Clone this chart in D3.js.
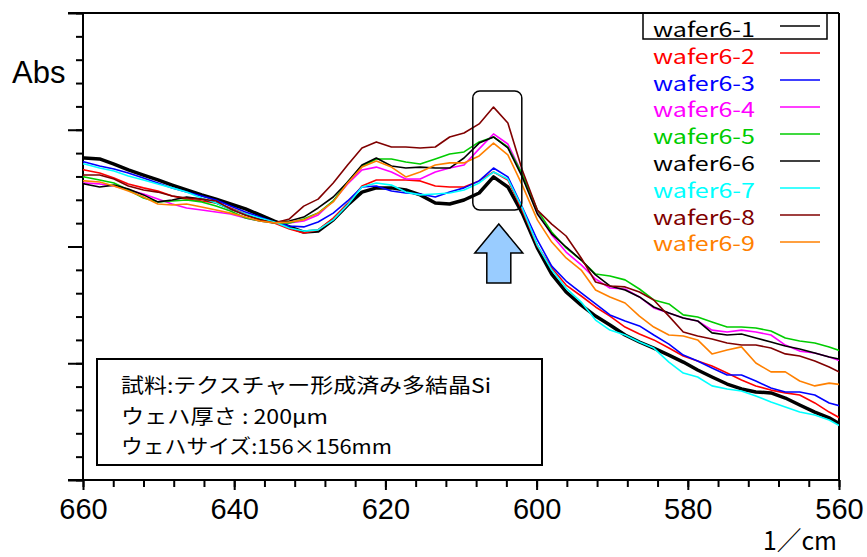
<!DOCTYPE html>
<html>
<head>
<meta charset="utf-8">
<script src="https://cdn.jsdelivr.net/npm/d3@7"></script>
<style>
  body { margin: 0; background: #fff; }
</style>
</head>
<body>
<div id="chart"></div>
<script>

// wavenumber grid of the spectra (1/cm)
const wavenumbers = [661.7, 659.8, 657.8, 655.9, 654.0, 652.0, 650.1, 648.2, 646.3, 644.3,
  642.4, 640.5, 638.5, 636.6, 634.7, 632.7, 630.8, 628.9, 626.9, 625.0,
  623.1, 621.2, 619.2, 617.3, 615.4, 613.4, 611.5, 609.6, 607.6, 605.7,
  603.8, 601.9, 599.9, 598.0, 596.1, 594.1, 592.2, 590.3, 588.3, 586.4,
  584.5, 582.5, 580.6, 578.7, 576.8, 574.8, 572.9, 571.0, 569.0, 567.1,
  565.2, 563.2, 561.3, 559.4];

// absorbance in arbitrary units (axis has 20 unlabelled divisions)
const wafer1 = [13.83, 13.79, 13.75, 13.53, 13.28, 13.06, 12.85, 12.63, 12.42, 12.21,
  12.03, 11.82, 11.61, 11.35, 11.09, 10.84, 10.62, 10.66, 11.14, 11.78,
  12.33, 12.51, 12.51, 12.42, 12.21, 11.86, 11.82, 11.99, 12.29, 12.98,
  12.55, 11.43, 9.94, 8.82, 8.05, 7.49, 7.02, 6.64, 6.21, 5.91,
  5.65, 5.35, 5.05, 4.71, 4.41, 4.11, 3.90, 3.77, 3.73, 3.51,
  3.21, 2.91, 2.66, 2.31];
const wafer2 = [13.32, 13.28, 13.15, 12.93, 12.68, 12.51, 12.38, 12.16, 12.03, 11.95,
  11.86, 11.65, 11.39, 11.18, 11.01, 10.75, 10.58, 10.71, 11.22, 11.82,
  12.59, 12.85, 12.85, 12.85, 12.81, 12.59, 12.55, 12.55, 12.81, 13.19,
  12.85, 11.56, 10.02, 9.08, 8.35, 7.88, 7.41, 7.02, 6.55, 6.25,
  6.00, 5.65, 5.31, 5.10, 4.88, 4.58, 4.28, 4.03, 3.85, 3.73,
  3.64, 3.30, 2.91, 2.57];
const wafer3 = [13.66, 13.62, 13.45, 13.32, 13.15, 12.93, 12.72, 12.51, 12.33, 12.16,
  11.99, 11.73, 11.48, 11.26, 11.05, 10.88, 10.84, 11.05, 11.43, 11.95,
  12.55, 12.59, 12.38, 12.29, 12.25, 12.12, 12.33, 12.51, 12.81, 13.36,
  12.98, 11.69, 10.28, 9.16, 8.52, 8.01, 7.54, 7.07, 6.81, 6.60,
  6.21, 5.82, 5.35, 5.10, 4.80, 4.50, 4.50, 4.24, 3.94, 3.77,
  3.77, 3.64, 3.30, 3.13];
const wafer4 = [12.72, 12.72, 12.68, 12.59, 12.42, 12.25, 12.03, 11.82, 11.65, 11.56,
  11.48, 11.39, 11.22, 11.09, 11.01, 11.01, 11.09, 11.35, 11.95, 12.68,
  13.28, 13.40, 13.19, 12.89, 12.89, 13.19, 13.36, 13.49, 14.18, 14.82,
  14.39, 13.11, 11.48, 10.49, 9.76, 9.21, 8.61, 8.22, 8.18, 7.84,
  7.37, 7.15, 6.94, 6.81, 6.42, 6.34, 6.42, 6.34, 6.21, 5.78,
  5.52, 5.44, 5.27, 5.05];
const wafer5 = [12.98, 12.98, 12.85, 12.72, 12.42, 12.08, 11.91, 11.95, 11.99, 11.91,
  11.73, 11.52, 11.22, 11.09, 11.01, 11.01, 11.18, 11.43, 11.95, 12.76,
  13.45, 13.75, 13.75, 13.62, 13.53, 13.75, 13.96, 14.05, 14.48, 14.69,
  14.26, 13.11, 11.56, 10.62, 9.94, 9.42, 8.82, 8.74, 8.57, 8.18,
  7.71, 7.54, 7.07, 6.98, 6.77, 6.55, 6.55, 6.51, 6.38, 6.08,
  5.95, 5.87, 5.70, 5.48];
const wafer6 = [12.72, 12.68, 12.55, 12.63, 12.46, 12.21, 11.91, 11.99, 12.12, 12.03,
  11.86, 11.61, 11.35, 11.18, 11.05, 11.09, 11.26, 11.65, 12.12, 12.76,
  13.49, 13.79, 13.45, 13.36, 13.40, 13.36, 13.36, 13.79, 14.43, 14.69,
  14.22, 12.98, 11.39, 10.54, 9.98, 9.42, 8.78, 8.31, 8.14, 7.84,
  7.41, 7.15, 6.94, 6.81, 6.30, 6.21, 6.25, 6.08, 5.91, 5.74,
  5.61, 5.44, 5.27, 5.14];
const wafer7 = [13.58, 13.53, 13.36, 13.23, 13.02, 12.85, 12.68, 12.51, 12.33, 12.08,
  11.86, 11.61, 11.39, 11.22, 11.05, 10.79, 10.66, 10.71, 11.14, 11.78,
  12.55, 12.72, 12.63, 12.33, 12.21, 12.25, 12.29, 12.42, 12.72, 13.19,
  12.89, 11.65, 10.06, 8.99, 8.22, 7.62, 6.85, 6.42, 6.21, 5.91,
  5.65, 5.05, 4.58, 4.41, 4.03, 3.90, 3.81, 3.60, 3.34, 3.13,
  2.91, 2.78, 2.57, 2.23];
const wafer8 = [13.06, 13.06, 13.06, 12.89, 12.59, 12.42, 12.33, 12.16, 12.08, 12.03,
  11.95, 11.61, 11.35, 11.14, 11.01, 11.18, 11.73, 12.03, 12.72, 13.49,
  14.22, 14.48, 14.26, 14.26, 14.22, 14.26, 14.69, 14.86, 15.25, 15.97,
  15.29, 13.28, 11.56, 10.96, 10.45, 9.51, 8.48, 8.31, 8.27, 8.05,
  7.71, 7.02, 6.34, 6.17, 6.04, 5.87, 5.78, 5.78, 5.65, 5.40,
  5.31, 5.10, 4.84, 4.54];
const wafer9 = [12.85, 12.81, 12.76, 12.59, 12.38, 12.12, 11.82, 11.78, 11.82, 11.69,
  11.56, 11.43, 11.26, 11.09, 11.01, 11.05, 11.14, 11.43, 11.91, 12.72,
  13.40, 13.66, 13.40, 12.98, 13.19, 13.49, 13.58, 13.58, 13.88, 14.43,
  13.92, 12.63, 11.14, 10.19, 9.51, 8.99, 8.14, 7.84, 7.58, 7.02,
  6.55, 6.21, 6.17, 6.00, 5.40, 5.57, 5.70, 5.01, 4.63, 4.63,
  4.24, 4.03, 4.15, 4.07];

const seriesNames = ["wafer6-1", "wafer6-2", "wafer6-3", "wafer6-4", "wafer6-5",
                     "wafer6-6", "wafer6-7", "wafer6-8", "wafer6-9"];
const seriesValues = [wafer1, wafer2, wafer3, wafer4, wafer5, wafer6, wafer7, wafer8, wafer9];
const seriesColors = ["#000000", "#ff0000", "#0000ff", "#ff00ff", "#00cc00",
                      "#000000", "#00ffff", "#800000", "#ff8000"];
const xTickLabels = [660, 640, 620, 600, 580, 560];
const noteLines = ["試料:テクスチャー形成済み多結晶Si", "ウェハ厚さ : 200μm", "ウェハサイズ:156×156mm"];

let dim = {width: 867, height: 557, left: 83, right: 839, top: 13, bottom: 480};

let svg = d3.select('#chart').append('svg')
    .attr('width', dim.width)
    .attr('height', dim.height)
    .style('display', 'block');

let x = d3.scaleLinear().domain([660, 560]).range([dim.left, dim.right]);
let y = d3.scaleLinear().domain([0, 20]).range([dim.bottom, dim.top]);

svg.append('clipPath').attr('id', 'plot')
  .append('rect')
    .attr('x', dim.left).attr('y', dim.top)
    .attr('width', dim.right - dim.left).attr('height', dim.bottom - dim.top);

// ---- axes (ticks drawn by d3, frame lines by hand) ----
function styleAxis(g) {
  g.select('.domain').remove();
  g.selectAll('line').attr('stroke', '#000').attr('stroke-width', 2);
}

svg.append('g')
    .attr('transform', `translate(0,${dim.bottom})`)
    .call(d3.axisBottom(x).tickValues(d3.range(660, 559, -4)).tickSize(7).tickFormat(''))
    .call(styleAxis);

let xMajor = svg.append('g')
    .attr('transform', `translate(0,${dim.bottom})`)
    .call(d3.axisBottom(x).tickValues(xTickLabels).tickSize(10).tickFormat(d3.format('d')))
    .call(styleAxis);
xMajor.selectAll('text')
    .attr('y', 39).attr('dy', 0)
    .attr('fill', '#000')
    .style('font-family', 'Liberation Sans, Arial, sans-serif')
    .style('font-size', '29px');

svg.append('g')
    .attr('transform', `translate(${dim.left},0)`)
    .call(d3.axisLeft(y).tickValues(d3.range(0, 21)).tickSize(7).tickFormat(''))
    .call(styleAxis);
svg.append('g')
    .attr('transform', `translate(${dim.left},0)`)
    .call(d3.axisLeft(y).tickValues([0, 5, 10, 15, 20]).tickSize(15).tickFormat(''))
    .call(styleAxis);

let frame = svg.append('g').attr('stroke', '#000').attr('stroke-width', 2);
frame.append('line').attr('x1', dim.left - 15).attr('x2', dim.right).attr('y1', dim.top).attr('y2', dim.top);
frame.append('line').attr('x1', dim.left - 15).attr('x2', dim.right).attr('y1', dim.bottom).attr('y2', dim.bottom);
frame.append('line').attr('x1', dim.left).attr('x2', dim.left).attr('y1', dim.top).attr('y2', dim.bottom);
frame.append('line').attr('x1', dim.right).attr('x2', dim.right).attr('y1', dim.top).attr('y2', dim.bottom);

svg.append('text')
    .attr('x', 12).attr('y', 83)
    .style('font-family', 'Liberation Sans, Arial, sans-serif')
    .style('font-size', '31px')
    .text('Abs');

svg.append('text')
    .attr('x', 837).attr('y', 550)
    .attr('text-anchor', 'end')
    .attr('textLength', 74).attr('lengthAdjust', 'spacingAndGlyphs')
    .style('font-family', 'Noto Sans CJK JP, sans-serif')
    .style('font-size', '26px')
    .text('1／cm');

// ---- note box ----
svg.append('rect')
    .attr('x', 97).attr('y', 359).attr('width', 445).attr('height', 106)
    .attr('fill', '#fff').attr('stroke', '#000').attr('stroke-width', 2);

const noteWidths = [370, 207, 271];
svg.selectAll('.note')
    .data(noteLines)
    .enter()
    .append('text')
    .attr('class', 'note')
    .attr('x', 121)
    .attr('y', (d, i) => 393 + i * 30.5)
    .attr('textLength', (d, i) => noteWidths[i])
    .attr('lengthAdjust', 'spacingAndGlyphs')
    .style('font-family', 'Noto Sans CJK JP, sans-serif')
    .style('font-size', '20px')
    .text(d => d);

// ---- spectra ----
let line = d3.line()
    .x((d, i) => x(wavenumbers[i]))
    .y(d => y(d));

svg.append('g')
    .attr('clip-path', 'url(#plot)')
    .selectAll('path')
    .data(seriesValues)
    .enter()
    .append('path')
    .attr('d', d => line(d))
    .attr('fill', 'none')
    .attr('stroke', (d, i) => seriesColors[i])
    .attr('stroke-width', (d, i) => i === 0 ? 3.5 : 1.6)
    .attr('stroke-linejoin', 'round');

// ---- peak marker: rounded box and arrow ----
let peak = 605;
svg.append('rect')
    .attr('x', x(peak) - 26).attr('y', 91).attr('width', 49).attr('height', 119)
    .attr('rx', 7)
    .attr('fill', 'none').attr('stroke', '#000').attr('stroke-width', 1.5);

let ax = x(peak);
svg.append('path')
    .attr('d', `M${ax},224 L${ax + 24},253 L${ax + 12},253 L${ax + 12},283 L${ax - 12},283 L${ax - 12},253 L${ax - 24},253 Z`)
    .attr('fill', '#99ccff').attr('stroke', '#000').attr('stroke-width', 1.5);

// ---- legend ----
let legend = svg.append('g');
legend.append('rect')
    .attr('x', 643).attr('y', dim.top).attr('width', 184).attr('height', 26)
    .attr('fill', 'none').attr('stroke', '#000').attr('stroke-width', 1.5);

let rows = legend.selectAll('g.row')
    .data(seriesNames)
    .enter()
    .append('g')
    .attr('class', 'row');

rows.append('text')
    .attr('x', 653)
    .attr('y', (d, i) => 37 + i * 26.8)
    .attr('textLength', 102).attr('lengthAdjust', 'spacingAndGlyphs')
    .attr('fill', (d, i) => seriesColors[i])
    .style('font-family', 'Noto Sans CJK JP, sans-serif')
    .style('font-size', '20px')
    .text(d => d);

rows.append('line')
    .attr('x1', 780).attr('x2', 820)
    .attr('y1', (d, i) => 26 + i * 27)
    .attr('y2', (d, i) => 26 + i * 27)
    .attr('stroke', (d, i) => seriesColors[i])
    .attr('stroke-width', 1.5);

</script>
</body>
</html>
